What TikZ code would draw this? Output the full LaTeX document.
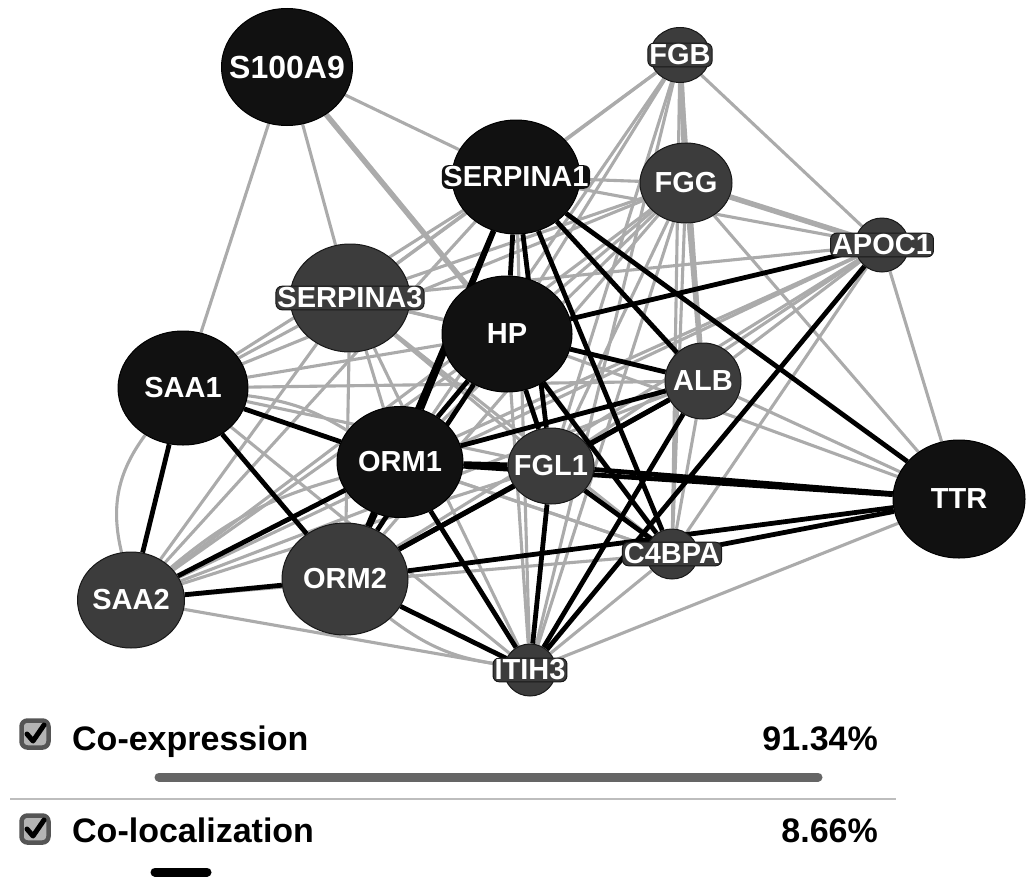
\documentclass[tikz,border=0pt]{standalone}
\usepackage{fontspec}
\setmainfont{Liberation Sans}
\usetikzlibrary{shapes.geometric}
\pgfdeclarelayer{bg}
\pgfsetlayers{bg,main}
\definecolor{nblack}{HTML}{111111}
\definecolor{ngray}{HTML}{3C3C3C}
\definecolor{egray}{HTML}{ABABAB}
\definecolor{barg}{HTML}{656565}
\definecolor{sepg}{HTML}{BDBDBD}
\definecolor{chkfill}{HTML}{B4B4B4}
\definecolor{chkedge}{HTML}{555555}
\begin{document}
\begin{tikzpicture}[x=1pt,y=-1pt,
  bnode/.style={ellipse, fill=nblack, draw=black, line width=1pt, inner sep=0pt},
  gnode/.style={ellipse, fill=ngray, draw=black!60!ngray, line width=1pt, inner sep=0pt},
  lab/.style={text=white, font=\fontsize{29}{30}\selectfont\bfseries, inner sep=1.5pt, rounded corners=6pt},
  blab/.style={lab, fill=nblack},
  glab/.style={lab, fill=ngray, draw=black!60!ngray, line width=1pt},
  gr/.style={egray, line width=3.1pt},
  grthick/.style={egray, line width=5.5pt},
  bk/.style={black, line width=4.8pt},
  chk/.style={draw=chkedge, line width=4.5pt, fill=chkfill, rounded corners=6pt, minimum size=27pt, inner sep=0pt},
  leg/.style={font=\fontsize{34}{36}\selectfont\bfseries, inner sep=0pt},
  tick/.style={black, line width=5pt, line cap=round, line join=round}
]
\useasboundingbox (0,0) rectangle (1033,886);

% nodes
\node[bnode, minimum width=131pt, minimum height=117pt, label={[blab,font=\fontsize{32}{33}\selectfont\bfseries]center:S100A9}] (s100a9) at (287,67) {};
\node[gnode, minimum width=60pt, minimum height=55pt, label={[glab]center:FGB}] (fgb) at (680,55) {};
\node[bnode, minimum width=128pt, minimum height=114pt, label={[blab]center:SERPINA1}] (serpina1) at (516,177) {};
\node[gnode, minimum width=92pt, minimum height=80pt, label={[glab,draw=none]center:FGG}] (fgg) at (686,183) {};
\node[gnode, minimum width=54pt, minimum height=54pt, label={[glab]center:APOC1}] (apoc1) at (882,245) {};
\node[gnode, minimum width=120pt, minimum height=108pt, label={[glab]center:SERPINA3}] (serpina3) at (350,298) {};
\node[bnode, minimum width=130pt, minimum height=116pt, label={[blab]center:HP}] (hp) at (507,334) {};
\node[gnode, minimum width=76pt, minimum height=76pt, label={[glab,draw=none]center:ALB}] (alb) at (703,381) {};
\node[bnode, minimum width=130pt, minimum height=114pt, label={[blab]center:SAA1}] (saa1) at (183,388) {};
\node[bnode, minimum width=126pt, minimum height=111pt, label={[blab]center:ORM1}] (orm1) at (400,462) {};
\node[gnode, minimum width=86pt, minimum height=76pt, label={[glab,draw=none]center:FGL1}] (fgl1) at (551,466) {};
\node[bnode, minimum width=132pt, minimum height=118pt, label={[blab]center:TTR}] (ttr) at (959,499) {};
\node[gnode, minimum width=52pt, minimum height=50pt, label={[glab]center:C4BPA}] (c4bpa) at (672,554) {};
\node[gnode, minimum width=107pt, minimum height=96pt, label={[glab,draw=none]center:SAA2}] (saa2) at (131,600) {};
\node[gnode, minimum width=126pt, minimum height=112pt, label={[glab,draw=none]center:ORM2}] (orm2) at (345,579) {};
\node[gnode, minimum width=52pt, minimum height=52pt, label={[glab]center:ITIH3}] (itih3) at (530,670) {};

\begin{pgfonlayer}{bg}
% co-expression (grey)
\foreach \a/\b in {s100a9/saa1, s100a9/serpina3, s100a9/serpina1,
  fgb/serpina1, fgb/apoc1, fgb/hp, fgb/orm1, fgb/fgl1, fgb/alb, fgb/serpina3, fgb/c4bpa, fgb/itih3,
  fgg/serpina1, fgg/serpina3, fgg/hp, fgg/orm1, fgg/fgl1, fgg/c4bpa, fgg/itih3, fgg/ttr, fgg/orm2, fgg/saa1, fgg/saa2,
  serpina1/serpina3, serpina1/apoc1, serpina1/saa1, serpina1/saa2, serpina1/itih3,
  apoc1/hp, apoc1/alb, apoc1/orm1, apoc1/orm2, apoc1/fgl1, apoc1/c4bpa, apoc1/ttr, apoc1/serpina3, apoc1/saa2,
  serpina3/hp, serpina3/saa1, serpina3/saa2, serpina3/orm1, serpina3/orm2, serpina3/fgl1, serpina3/alb, serpina3/c4bpa, serpina3/itih3,
  hp/saa1, hp/saa2, hp/itih3, hp/ttr,
  alb/saa1, alb/saa2, alb/c4bpa, alb/ttr,
  saa1/fgl1, saa1/itih3, saa1/c4bpa,
  saa2/fgl1, saa2/c4bpa, saa2/itih3,
  orm1/c4bpa, c4bpa/itih3, itih3/ttr}
  \draw[gr] (\a) -- (\b);
\foreach \a/\b in {s100a9/hp, fgb/fgg, fgg/apoc1, fgg/alb}
  \draw[grthick] (\a) -- (\b);
\draw[gr] (saa2) to[bend left=25] (saa1);
\draw[gr] (orm2) to[bend right=15] (itih3);
\draw[gr] (saa1) to[bend left=12] (orm1);
\draw[gr] (saa2) to[bend left=12] (orm1);
% co-localization (black)
\foreach \a/\b in {serpina1/hp, serpina1/orm1, serpina1/orm2, serpina1/c4bpa, serpina1/alb, serpina1/ttr, serpina1/fgl1,
  hp/apoc1, hp/alb, hp/orm1, hp/orm2, hp/fgl1, hp/c4bpa,
  orm1/saa1, orm1/saa2, orm1/alb, orm1/fgl1, orm1/itih3, orm1/orm2, orm1/ttr,
  saa1/saa2, saa1/orm2, saa2/orm2,
  orm2/itih3, orm2/fgl1, orm2/ttr, orm2/alb,
  fgl1/itih3, fgl1/c4bpa, fgl1/ttr, fgl1/alb,
  itih3/apoc1, itih3/alb, c4bpa/ttr}
  \draw[bk] (\a) -- (\b);
\end{pgfonlayer}

% legend
\node[chk] (cb1) at (35,734) {};
\draw[tick] ([shift={(-8,0)}]cb1.center) -- ([shift={(-2,7)}]cb1.center) -- ([shift={(9,-9)}]cb1.center);
\node[leg, anchor=base west] (t1) at (72,750) {Co-expression};
\node[leg, anchor=base east] (p1) at (878,750) {91.34\%};
\draw[barg, line width=9pt, line cap=round] (159,777) -- (818,777);
\draw[sepg, line width=2.5pt] (10,799) -- (896,799);
\node[chk] (cb2) at (35,829) {};
\draw[tick] ([shift={(-8,0)}]cb2.center) -- ([shift={(-2,7)}]cb2.center) -- ([shift={(9,-9)}]cb2.center);
\node[leg, anchor=base west] (t2) at (72,842) {Co-localization};
\node[leg, anchor=base east] (p2) at (878,842) {8.66\%};
\draw[black, line width=9pt, line cap=round] (155,872) -- (207,872);
\end{tikzpicture}
\end{document}
